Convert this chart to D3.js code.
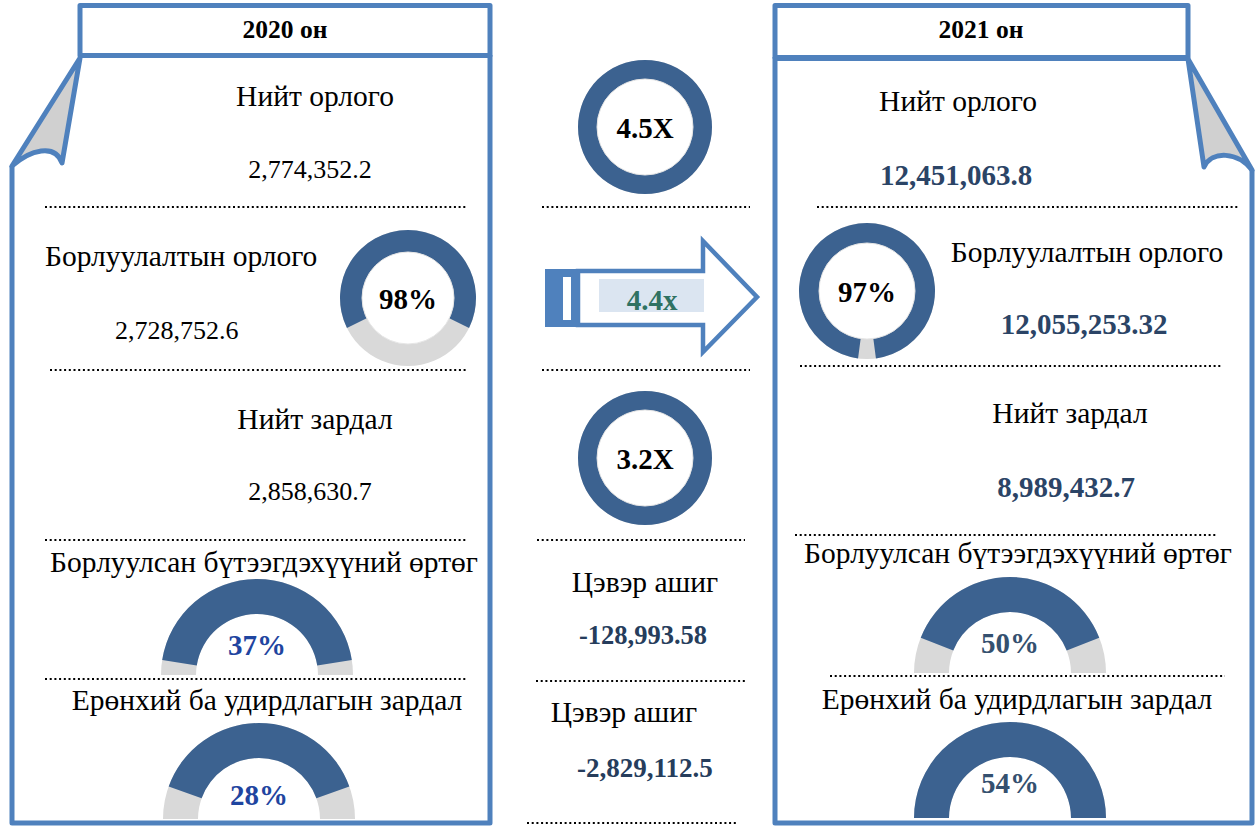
<!DOCTYPE html>
<html>
<head>
<meta charset="utf-8">
<script src="https://cdn.jsdelivr.net/npm/d3@7"></script>
<style>
  html, body { margin: 0; padding: 0; background: #ffffff; }
  svg { display: block; }
</style>
</head>
<body>
<div id="chart"></div>
<script>
// ---------------- DATA ----------------
const years = ["2020 он", "2021 он"];
const itemLabels = ["Нийт орлого", "Борлуулалтын орлого", "Нийт зардал",
                    "Борлуулсан бүтээгдэхүүний өртөг", "Ерөнхий ба удирдлагын зардал"];
const totalIncome = [2774352.2, 12451063.8];
const salesIncome = [2728752.6, 12055253.32];
const totalExpense = [2858630.7, 8989432.7];
const salesSharePct = [98, 97];          // label of donut
const salesShareFill = [0.645, 0.958];   // blue part of ring as drawn
const cogsSharePct = [37, 50];
const cogsGaugeFill = [0.90, 0.76];      // blue part of half ring as drawn
const adminSharePct = [28, 54];
const adminGaugeFill = [0.78, 1.0];
const growthLabels = ["4.5X", "4.4x", "3.2X"];
const netProfitLabel = "Цэвэр ашиг";
const netProfit = [-128993.58, -2829112.5];

// ---------------- HELPERS ----------------
const W = 1258, H = 827;
const BLUE = "#4f81bd", DARK = "#3c6290", GREY = "#d9d9d9";
const SERIF = "'Liberation Serif','Times New Roman',serif";
const LBL = 29.5;

function fmt(v) {
  const s = String(v);
  const dec = s.includes(".") ? s.split(".")[1].length : 0;
  return d3.format(",." + dec + "f")(v).replace("−", "-");
}

const svg = d3.select("#chart").append("svg")
  .attr("width", W).attr("height", H)
  .attr("viewBox", `0 0 ${W} ${H}`);

function txt(x, y, s, o = {}) {
  return svg.append("text")
    .attr("x", x).attr("y", y)
    .attr("text-anchor", o.anchor || "middle")
    .attr("font-family", SERIF)
    .attr("font-size", o.size || LBL)
    .attr("font-weight", o.bold ? "bold" : "normal")
    .attr("fill", o.color || "#000")
    .text(s);
}

function dots(x1, x2, y) {
  svg.append("line")
    .attr("x1", x1).attr("x2", x2).attr("y1", y).attr("y2", y)
    .attr("stroke", "#000").attr("stroke-width", 2)
    .attr("stroke-dasharray", "2 2.7");
}

const arc = d3.arc();
// full ring donut, blue part centred on top
const ringAngle = d3.scaleLinear().domain([0, 1]).range([0, Math.PI]);
function donut(cx, cy, rIn, rOut, fill, label, labelColor) {
  const g = svg.append("g").attr("transform", `translate(${cx},${cy})`);
  g.append("path").attr("d", arc({innerRadius: rIn, outerRadius: rOut, startAngle: 0, endAngle: 2 * Math.PI}))
    .attr("fill", GREY);
  const a = ringAngle(fill);
  g.append("path").attr("d", arc({innerRadius: rIn, outerRadius: rOut, startAngle: -a, endAngle: a}))
    .attr("fill", DARK);
  g.append("circle").attr("r", rIn).attr("fill", "none").attr("stroke", "#e6e6e6").attr("stroke-width", 1);
  if (label) g.append("text").attr("y", 11).attr("text-anchor", "middle")
    .attr("font-family", SERIF).attr("font-size", 29).attr("font-weight", "bold")
    .attr("fill", labelColor || "#000").text(label);
}
// half ring gauge
const halfAngle = d3.scaleLinear().domain([0, 1]).range([0, Math.PI / 2]);
function gauge(cx, cy, rIn, rOut, fill, label, labelColor, labelDy) {
  const g = svg.append("g").attr("transform", `translate(${cx},${cy})`);
  g.append("path").attr("d", arc({innerRadius: rIn, outerRadius: rOut, startAngle: -Math.PI / 2, endAngle: Math.PI / 2}))
    .attr("fill", GREY);
  const a = halfAngle(fill);
  g.append("path").attr("d", arc({innerRadius: rIn, outerRadius: rOut, startAngle: -a, endAngle: a}))
    .attr("fill", DARK);
  g.append("text").attr("y", labelDy).attr("text-anchor", "middle")
    .attr("font-family", SERIF).attr("font-size", 29).attr("font-weight", "bold")
    .attr("fill", labelColor).text(label);
}

// ---------------- FRAMES ----------------
const frame = svg.append("g").attr("fill", "none").attr("stroke", BLUE)
  .attr("stroke-width", 5).attr("stroke-linejoin", "round");
// left page
frame.append("path").attr("d", "M12,166 L12,823 L490,823 L490,55");
frame.append("rect").attr("x", 80).attr("y", 5.5).attr("width", 410).attr("height", 50).attr("fill", "#fff");
frame.append("path").attr("d", "M80,58 L12,166 C30,150 55,143 62,163 Z").attr("fill", "#d0d0d0");
// right page
frame.append("path").attr("d", "M775,57 L775,823 L1252,823 L1252,170");
frame.append("rect").attr("x", 775).attr("y", 5.5).attr("width", 413).attr("height", 52).attr("fill", "#fff");
frame.append("line").attr("x1", 775).attr("x2", 1188).attr("y1", 58).attr("y2", 58).attr("stroke-width", 6);
frame.append("path").attr("d", "M1188,59 L1252,170 C1238,152 1212,150 1204,167 Z").attr("fill", "#d0d0d0");

txt(285, 38, years[0], {bold: true, size: 25.5});
txt(981, 38, years[1], {bold: true, size: 25.5});

// ---------------- LEFT PANEL (2020) ----------------
txt(315, 106, itemLabels[0]);
txt(310, 178, fmt(totalIncome[0]), {size: 26});
dots(45, 468, 207);
txt(45, 266, itemLabels[1], {anchor: "start"});
txt(115, 339, fmt(salesIncome[0]), {anchor: "start", size: 26});
donut(408, 298, 46, 68, salesShareFill[0], salesSharePct[0] + "%");
dots(50, 468, 370);
txt(315, 429, itemLabels[2]);
txt(310, 500, fmt(totalExpense[0]), {size: 26});
dots(45, 468, 540);
txt(264, 572, itemLabels[3]);
gauge(257, 675, 61, 96, cogsGaugeFill[0], cogsSharePct[0] + "%", "#1f45a0", -20);
dots(45, 468, 679);
txt(267, 710, itemLabels[4]);
gauge(259, 819, 61, 96, adminGaugeFill[0], adminSharePct[0] + "%", "#1f45a0", -14);

// ---------------- CENTER COLUMN ----------------
donut(645, 127, 48, 67, 1, growthLabels[0]);
dots(542, 750, 207);
// arrow
const arrowG = svg.append("g");
arrowG.append("path")
  .attr("d", "M578,271 L703,271 L703,241 L757,297 L703,352 L703,325 L578,325 Z")
  .attr("fill", "#fff").attr("stroke", BLUE).attr("stroke-width", 4.5).attr("stroke-linejoin", "miter");
arrowG.append("rect").attr("x", 545).attr("y", 269).attr("width", 33).attr("height", 58).attr("fill", BLUE);
arrowG.append("rect").attr("x", 563).attr("y", 277).attr("width", 8).attr("height", 43).attr("fill", "#fff");
arrowG.append("rect").attr("x", 599).attr("y", 279).attr("width", 105).attr("height", 33).attr("fill", "#dbe5f1");
txt(652, 310, growthLabels[1], {bold: true, size: 29, color: "#2f7262"});
dots(542, 750, 370);
donut(645, 458, 48, 67, 1, growthLabels[2]);
dots(537, 745, 540);
txt(645, 592, netProfitLabel);
txt(643, 644, fmt(netProfit[0]), {bold: true, size: 26.5, color: "#263d5c"});
dots(536, 746, 681);
txt(624, 722, netProfitLabel);
txt(645, 777, fmt(netProfit[1]), {bold: true, size: 27, color: "#263d5c"});
dots(527, 737, 823);

// ---------------- RIGHT PANEL (2021) ----------------
const NUMC = "#2b4466";
txt(958, 111, itemLabels[0]);
txt(956, 185, fmt(totalIncome[1]), {bold: true, size: 29, color: NUMC});
dots(817, 1240, 207);
donut(867, 291, 48, 68, salesShareFill[1], salesSharePct[1] + "%");
txt(1087, 262, itemLabels[1]);
txt(1084, 334, fmt(salesIncome[1]), {bold: true, size: 29, color: NUMC});
dots(800, 1222, 366);
txt(1070, 423, itemLabels[2]);
txt(1066, 497, fmt(totalExpense[1]), {bold: true, size: 29, color: NUMC});
dots(795, 1218, 535);
txt(1018, 563, itemLabels[3]);
gauge(1010, 673, 61, 96, cogsGaugeFill[1], cogsSharePct[1] + "%", "#34506f", -20);
dots(830, 1225, 676);
txt(1017, 709, itemLabels[4]);
gauge(1010, 818, 61, 96, adminGaugeFill[1], adminSharePct[1] + "%", "#34506f", -25);
</script>
</body>
</html>
